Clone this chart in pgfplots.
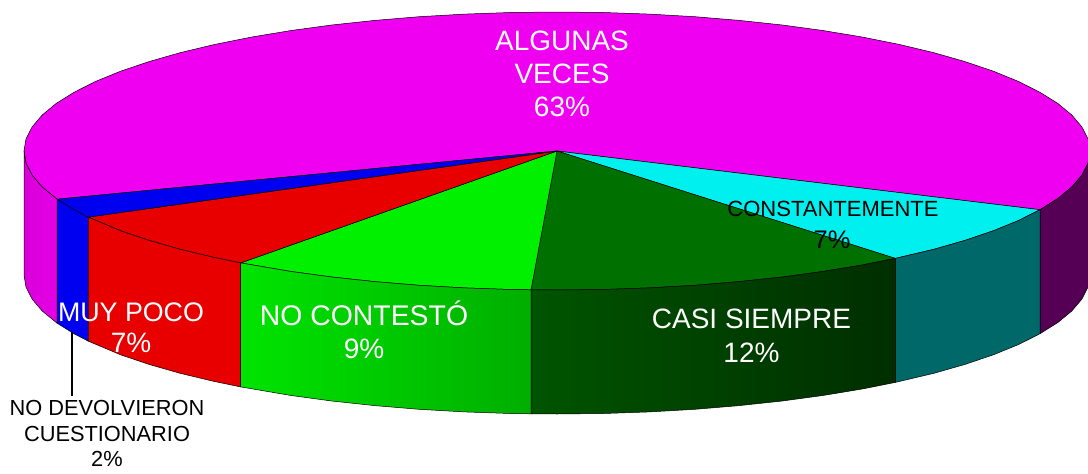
\documentclass[border=0pt]{standalone}
\usepackage{pgfplots}
\pgfplotsset{compat=1.18}
\usepackage{fontspec}
\setmainfont{Liberation Sans}
\definecolor{cmag}{HTML}{F000F0}
\definecolor{cmagl}{HTML}{DA00DA}
\definecolor{cmagr}{HTML}{E400E4}
\definecolor{cblu}{HTML}{0000F0}
\definecolor{cred}{HTML}{E80000}
\definecolor{cgrn}{HTML}{00F000}
\definecolor{cgrna}{HTML}{00E400}
\definecolor{cgrnb}{HTML}{00AE00}
\definecolor{cdg}{HTML}{007000}
\definecolor{cdga}{HTML}{005400}
\definecolor{cdgb}{HTML}{002E00}
\definecolor{ccya}{HTML}{00F0F0}
\definecolor{cteal}{HTML}{006868}
\definecolor{cpur}{HTML}{550055}
\begin{document}
\begin{tikzpicture}
\useasboundingbox (0,0) rectangle (1088pt,474pt);
\begin{axis}[
  at={(0,0)}, anchor=south west,
  scale only axis, width=1088pt, height=474pt,
  xmin=0, xmax=1088, ymin=0, ymax=474, y dir=reverse,
  hide axis, clip=true,
]
% --- top face slices
\addplot[draw=black, line width=0.5pt, fill=cmag] coordinates {
 (557,151) (57.1,199.2) (42.2,187) (32.1,175.1) (26,163.1) (24,151)
 (26,138.9) (32.1,126.9) (42.2,115) (56.1,103.5) (74,92.3) (95.4,81.5) (120.4,71.3) (148.7,61.7)
 (180.1,52.7) (214.4,44.5) (251.3,37.1) (290.5,30.6) (331.7,25) (374.7,20.4) (419.1,16.7) (464.5,14.1)
 (510.5,12.5) (557,12) (603.5,12.5) (649.5,14.1) (694.9,16.7) (739.3,20.4) (782.3,25) (823.5,30.6)
 (862.7,37.1) (899.6,44.5) (933.9,52.7) (965.3,61.7) (993.6,71.3) (1018.6,81.5) (1040,92.3) (1057.9,103.5)
 (1071.8,115) (1081.9,126.9) (1088,138.9) (1090,151) (1088,163.1) (1081.9,175.1) (1071.8,187) (1057.9,198.5) (1040,209.7)
} -- cycle;
\addplot[draw=black, line width=0.5pt, fill=ccya] coordinates {
 (557,151) (1040,209.7) (1018.6,220.5) (993.6,230.7) (965.3,240.3) (933.9,249.3) (895.3,258.4)
} -- cycle;
\addplot[draw=black, line width=0.5pt, fill=cdg] coordinates {
 (557,151) (895.3,258.4) (862.7,264.9) (823.5,271.4) (782.3,277) (739.3,281.6) (694.9,285.3) (649.5,287.9) (603.5,289.5) (557,290) (531,289.8)
} -- cycle;
\addplot[draw=black, line width=0.5pt, fill=cgrn] coordinates {
 (557,151) (531,289.8) (510.5,289.5) (464.5,287.9) (419.1,285.3) (374.7,281.6) (331.7,277) (290.5,271.4) (240.7,262.9)
} -- cycle;
\addplot[draw=black, line width=0.5pt, fill=cred] coordinates {
 (557,151) (240.7,262.9) (214.4,257.5) (180.1,249.3) (148.7,240.3) (120.4,230.7) (88.2,217.1)
} -- cycle;
\addplot[draw=black, line width=0.5pt, fill=cblu] coordinates {
 (557,151) (88.2,217.1) (73.9,209.7) (57.1,199.2)
} -- cycle;
% --- side panels
\addplot[draw=black, line width=0.5pt, fill=cpur] coordinates {
 (1090,151) (1088,163.1) (1081.9,175.1) (1071.8,187) (1057.9,198.5) (1040,209.7)
 (1040,333.7) (1057.9,322.5) (1071.8,311) (1081.9,299.1) (1088,287.1) (1090,275)
} -- cycle;
\addplot[draw=black, line width=0.5pt, fill=cteal] coordinates {
 (1040,209.7) (1018.6,220.5) (993.6,230.7) (965.3,240.3) (933.9,249.3) (895.3,258.4)
 (895.3,382.4) (933.9,373.3) (965.3,364.3) (993.6,354.7) (1018.6,344.5) (1040,333.7)
} -- cycle;
\addplot[draw=black, line width=0.5pt, left color=cdga, right color=cdgb] coordinates {
 (895.3,258.4) (862.7,264.9) (823.5,271.4) (782.3,277) (739.3,281.6) (694.9,285.3) (649.5,287.9) (603.5,289.5) (557,290) (531,289.8)
 (531,413.8) (557,414) (603.5,413.5) (649.5,411.9) (694.9,409.3) (739.3,405.6) (782.3,401) (823.5,395.4) (862.7,388.9) (895.3,382.4)
} -- cycle;
\addplot[draw=black, line width=0.5pt, left color=cgrna, right color=cgrnb] coordinates {
 (531,289.8) (510.5,289.5) (464.5,287.9) (419.1,285.3) (374.7,281.6) (331.7,277) (290.5,271.4) (240.7,262.9)
 (240.7,386.9) (290.5,395.4) (331.7,401) (374.7,405.6) (419.1,409.3) (464.5,411.9) (510.5,413.5) (531,413.8)
} -- cycle;
\addplot[draw=black, line width=0.5pt, fill=cred] coordinates {
 (240.7,262.9) (214.4,257.5) (180.1,249.3) (148.7,240.3) (120.4,230.7) (88.2,217.1)
 (88.2,341.1) (120.4,354.7) (148.7,364.3) (180.1,373.3) (214.4,381.5) (240.7,386.9)
} -- cycle;
\addplot[draw=black, line width=0.5pt, fill=cblu] coordinates {
 (88.2,217.1) (73.9,209.7) (57.1,199.2) (57.1,323.2) (73.9,333.7) (88.2,341.1)
} -- cycle;
\addplot[draw=black, line width=0.5pt, left color=cmagl, right color=cmagr] coordinates {
 (57.1,199.2) (42.2,187) (32.1,175.1) (26,163.1) (24,151)
 (24,275) (26,287.1) (32.1,299.1) (42.2,311) (57.1,323.2)
} -- cycle;
% --- leader line
\addplot[draw=black, line width=1.5pt] coordinates {(72,332) (72,396)};
% --- labels
\tikzset{big/.style={anchor=base, inner sep=0pt, text=white, font=\fontsize{28}{33}\selectfont},
         mid/.style={anchor=base, inner sep=0pt, text=black, font=\fontsize{21.8}{25}\selectfont}}
\node[big] at (axis cs:562,50) {ALGUNAS};
\node[big] at (axis cs:562,83) {VECES};
\node[big] at (axis cs:562,116) {63\%};
\node[big,font=\fontsize{26.8}{33}\selectfont] at (axis cs:131,321) {MUY POCO};
\node[big] at (axis cs:131,352) {7\%};
\node[big,font=\fontsize{28.4}{33}\selectfont] at (axis cs:364,325) {NO CONTESTÓ};
\node[big] at (axis cs:364,358) {9\%};
\node[big] at (axis cs:751.5,328) {CASI SIEMPRE};
\node[big] at (axis cs:751.5,362) {12\%};
\node[mid,font=\fontsize{22}{25}\selectfont] at (axis cs:833,216) {CONSTANTEMENTE};
\node[mid,font=\fontsize{25.4}{30}\selectfont] at (axis cs:832,248) {7\%};
\node[mid] at (axis cs:107,415) {NO DEVOLVIERON};
\node[mid] at (axis cs:107,441) {CUESTIONARIO};
\node[mid] at (axis cs:107,466) {2\%};
\end{axis}
\end{tikzpicture}
\end{document}
